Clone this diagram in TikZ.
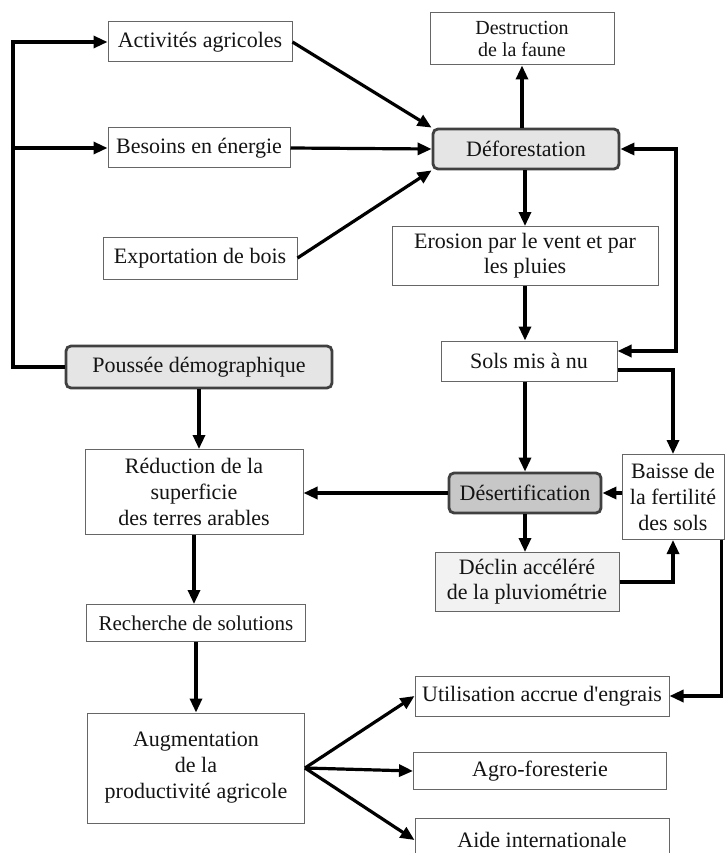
\documentclass[tikz,border=0pt]{standalone}
\usepackage{fontspec}
\setmainfont{Liberation Serif}
\usetikzlibrary{arrows.meta}
\begin{document}
\begin{tikzpicture}[x=1pt,y=-1pt,
  box/.style={draw=black!60, line width=1pt, fill=white, inner sep=0pt, align=center,
    text=black!92, font=\fontsize{22}{25}\selectfont},
  keybox/.style={box, draw=black!75, line width=2.8pt, rounded corners=5pt, fill=black!10},
  arr/.style={line width=3.2pt, -{Triangle[length=14pt,width=12pt]}},
  darr/.style={line width=3.2pt, {Triangle[length=14pt,width=12pt]}-{Triangle[length=14pt,width=12pt]}}]
\path[use as bounding box] (0,0) rectangle (725,853);
\clip (0,0) rectangle (725,853);
\fill[white] (0,0) rectangle (725,853);
% nodes
\node[box, minimum width=184, minimum height=40] (activ) at (200,42) {Activités agricoles};
\node[box, minimum width=182, minimum height=40] (besoins) at (199,148) {Besoins en énergie};
\node[box, minimum width=194, minimum height=42] (export) at (200,258) {Exportation de bois};
\node[keybox, minimum width=266, minimum height=42] (pousse) at (199,367) {Poussée démographique};
\node[box, minimum width=184, minimum height=52, font=\fontsize{20}{22}\selectfont] (destr) at (522,39) {Destruction\\de la faune};
\node[keybox, minimum width=186, minimum height=40] (defor) at (526,149) {Déforestation};
\node[box, minimum width=266, minimum height=59] (erosion) at (525,256) {Erosion par le vent et par\\les pluies};
\node[box, minimum width=176, minimum height=40] (sols) at (529,361) {Sols mis à nu};
\node[box, minimum width=218, minimum height=85, font=\fontsize{22}{26}\selectfont] (reduc) at (194,492) {Réduction de la\\superficie\\des terres arables};
\node[keybox, fill=black!22, minimum width=152, minimum height=40] (desert) at (525,493) {Désertification};
\node[box, minimum width=102, minimum height=85, font=\fontsize{22}{26}\selectfont] (baisse) at (673,497) {Baisse de\\la fertilité\\des sols};
\node[box, fill=black!5, minimum width=184, minimum height=59] (declin) at (527,582) {Déclin accéléré\\de la pluviométrie};
\node[box, minimum width=219, minimum height=37, font=\fontsize{21}{24}\selectfont] (recher) at (196,623) {Recherche de solutions};
\node[box, minimum width=217, minimum height=110, font=\fontsize{22}{26}\selectfont] (augm) at (196,768) {Augmentation\\de la\\productivité agricole};
\node[box, minimum width=254, minimum height=40] (util) at (542,696) {Utilisation accrue d\textquotesingle engrais};
\node[box, minimum width=253, minimum height=37] (agro) at (540,771) {Agro-foresterie};
\node[box, minimum width=254, minimum height=44] (aide) at (542,840) {Aide internationale};
% connectors
\coordinate (L) at (13,367);
\draw[arr] (pousse.west) -- (L) |- (activ.west);
\draw[arr] (L |- besoins.west) -- (besoins.west);
\draw[arr] (activ.east) -- (defor.north west);
\draw[arr] (besoins.east) -- (defor.west);
\draw[arr] (export.east) -- (defor.south west);
\draw[arr] (defor.north -| destr.south) -- (destr.south);
\draw[arr] (defor.south -| erosion.north) -- (erosion.north);
\draw[arr] (erosion.south) -- (erosion.south |- sols.north);
\coordinate (R) at (676,0);
\draw[darr] (defor.east) -- (R |- defor.east) |- ([yshift=10pt]sols.east);
\draw[arr] ([yshift=-9pt]sols.east) -| (baisse.north);
\draw[arr] (sols.south -| desert.north) -- (desert.north);
\draw[arr] (baisse.west |- desert.east) -- (desert.east);
\draw[arr] (desert.west) -- (reduc.east |- desert.west);
\draw[arr] (desert.south) -- (desert.south |- declin.north);
\draw[arr] (declin.east) -| (baisse.south);
\draw[arr] ([xshift=-3pt]baisse.south east) |- (util.east);
\draw[arr] (pousse.south) -- (pousse.south |- reduc.north);
\draw[arr] (reduc.south) -- (reduc.south |- recher.north);
\draw[arr] (recher.south) -- (recher.south |- augm.north);
\draw[arr] (augm.east) -- (util.west);
\draw[arr] (augm.east) -- (agro.west);
\draw[arr] (augm.east) -- (aide.west);
\end{tikzpicture}
\end{document}
